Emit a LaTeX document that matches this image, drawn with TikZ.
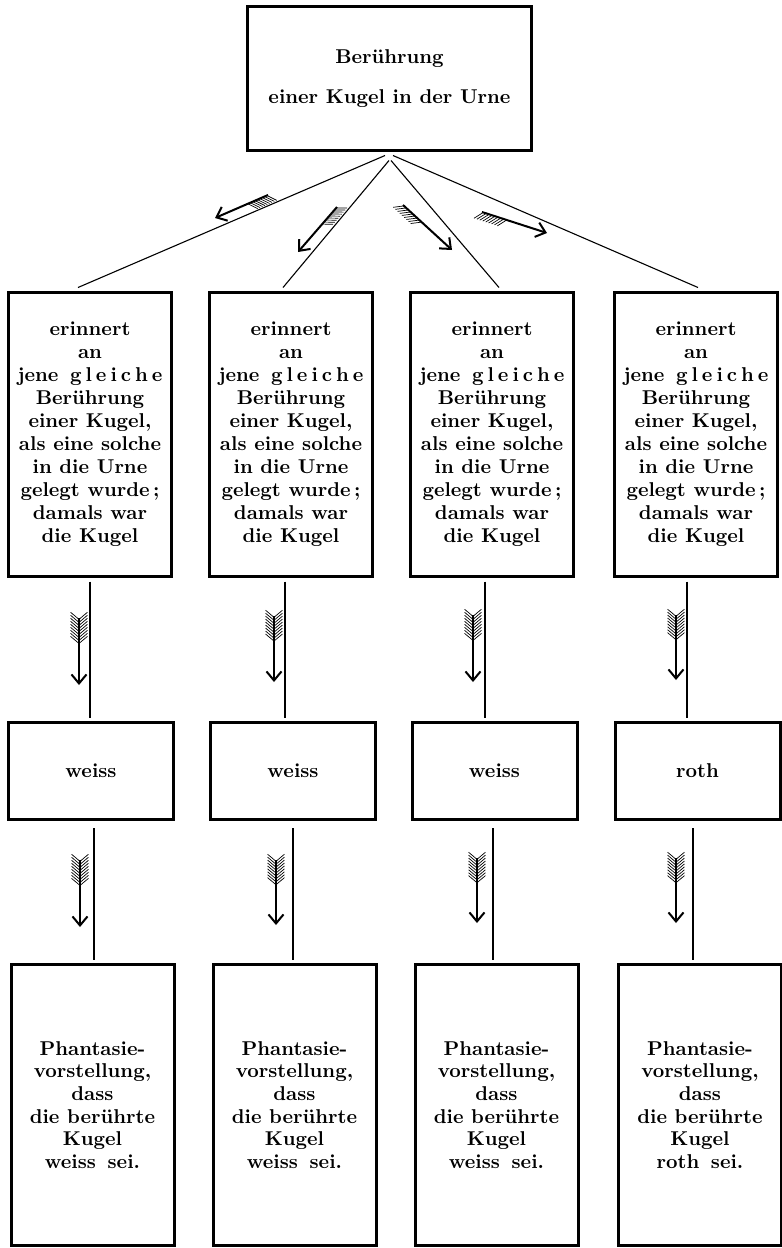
\documentclass[tikz,border=0pt]{standalone}
\usepackage{fontspec}
\usepackage{tikz}
\usetikzlibrary{positioning, calc, arrows.meta}
\tikzset {
    x=0.5pt, y=-0.5pt,
    kasten/.style={draw, line width=1.5pt, align=center, inner sep=0pt},
    oben/.style={kasten, minimum width=142pt, minimum height=72pt,
        font=\bfseries\fontsize{10}{12}\selectfont},
    erinnerung/.style={kasten, minimum width=81.5pt, minimum height=142pt,
        font=\bfseries\fontsize{10}{11.5}\selectfont},
    farbe/.style={kasten, minimum width=82.5pt, minimum height=48.5pt,
        font=\bfseries\fontsize{10}{12}\selectfont},
    vorstellung/.style={kasten, minimum width=81.5pt, minimum height=140.5pt,
        font=\bfseries\fontsize{10}{11.3}\selectfont},
    verbindung/.style={line width=0.55pt},
    schaft/.style={line width=1pt, -{Straight Barb[length=4.5pt, width=7.5pt]}},
    feder/.style={line width=0.35pt}
}
% feathered arrow: tail, head, barb angles
\newcommand{\pfeil}[3]{%
    \draw[schaft] #1 -- #2;
    \foreach \t in {0.02,0.065,...,0.38} {
        \coordinate (f) at ($#1!\t!#2$);
        \foreach \w in {#3}
            \draw[feder] (f) -- ($(f)!5.5pt!\w:#1$);
    }
}
\newcommand{\gleiche}{g\kern2pt l\kern2pt e\kern2pt i\kern2pt c\kern2pt h\kern2pt e}

\begin{document}
\begin{tikzpicture}
    \useasboundingbox (0,0) rectangle (782,1248);

    \node[oben] (beruehrung) at (389.5,78.5) {Berührung\\[8pt]einer Kugel in der Urne};

    \node[erinnerung] (e1) at (90,434) {erinnert\\an\\jene\hspace{2pt} \gleiche\\Berührung\\einer Kugel,\\als eine solche\\in die Urne\\gelegt wurde\,;\\damals war\\die Kugel};
    \node[erinnerung] (e2) at (291,434) {erinnert\\an\\jene\hspace{2pt} \gleiche\\Berührung\\einer Kugel,\\als eine solche\\in die Urne\\gelegt wurde\,;\\damals war\\die Kugel};
    \node[erinnerung] (e3) at (492,434) {erinnert\\an\\jene\hspace{2pt} \gleiche\\Berührung\\einer Kugel,\\als eine solche\\in die Urne\\gelegt wurde\,;\\damals war\\die Kugel};
    \node[erinnerung] (e4) at (696,434) {erinnert\\an\\jene\hspace{2pt} \gleiche\\Berührung\\einer Kugel,\\als eine solche\\in die Urne\\gelegt wurde\,;\\damals war\\die Kugel};

    \node[farbe] (w1) at (91,771) {weiss};
    \node[farbe] (w2) at (293,771) {weiss};
    \node[farbe] (w3) at (494.5,771) {weiss};
    \node[farbe] (r4) at (697.5,771) {roth};

    \node[vorstellung] (p1) at (92.5,1105) {Phantasie-\\vorstellung,\\dass\\die berührte\\Kugel\\weiss\hspace{2pt} sei.};
    \node[vorstellung] (p2) at (294.5,1105) {Phantasie-\\vorstellung,\\dass\\die berührte\\Kugel\\weiss\hspace{2pt} sei.};
    \node[vorstellung] (p3) at (496.5,1105) {Phantasie-\\vorstellung,\\dass\\die berührte\\Kugel\\weiss\hspace{2pt} sei.};
    \node[vorstellung] (p4) at (700,1105) {Phantasie-\\vorstellung,\\dass\\die berührte\\Kugel\\roth\hspace{2pt} sei.};

    % fan from the top box
    \draw[verbindung] ($(beruehrung.south)+(-4.5,3.5)$) -- ($(e1.north)+(-12,-3)$);
    \draw[verbindung] ($(beruehrung.south)+(-0.5,8.5)$) -- ($(e2.north)+(-8,-3)$);
    \draw[verbindung] ($(beruehrung.south)+(1.5,8.5)$) -- ($(e3.north)+(7,-3)$);
    \draw[verbindung] ($(beruehrung.south)+(3.5,3.5)$) -- ($(e4.north)+(2,-3)$);

    % second row
    \draw[verbindung] ($(e1.south)+(0,4)$) -- ($(w1.north)+(-1,-3)$);
    \draw[verbindung] ($(e2.south)+(-6,4)$) -- ($(w2.north)+(-8,-3)$);
    \draw[verbindung] ($(e3.south)+(-7,4)$) -- ($(w3.north)+(-9.5,-3)$);
    \draw[verbindung] ($(e4.south)+(-9,4)$) -- ($(r4.north)+(-10.5,-3)$);

    % third row
    \draw[verbindung] ($(w1.south)+(3,7)$) -- ($(p1.north)+(1.5,-3)$);
    \draw[verbindung] ($(w2.south)+(0,7)$) -- ($(p2.north)+(-1.5,-3)$);
    \draw[verbindung] ($(w3.south)+(-1.5,7)$) -- ($(p3.north)+(-3.5,-3)$);
    \draw[verbindung] ($(r4.south)+(-4.5,7)$) -- ($(p4.north)+(-7,-3)$);

    % arrows beside the lines
    \pfeil{(268,195)}{(215,218)}{-50}
    \pfeil{(337,207)}{(298,252)}{-50}
    \pfeil{(403,205)}{(452,250)}{50}
    \pfeil{(482,212)}{(547,233)}{50}

    \pfeil{(79,618)}{(79,685)}{50,-50}
    \pfeil{(274,616)}{(274,682)}{50,-50}
    \pfeil{(473,615)}{(473,682)}{50,-50}
    \pfeil{(676,615)}{(676,680)}{50,-50}

    \pfeil{(80,860)}{(80,927)}{50,-50}
    \pfeil{(276,860)}{(276,925)}{50,-50}
    \pfeil{(477,858)}{(477,923)}{50,-50}
    \pfeil{(676,858)}{(676,923)}{50,-50}
\end{tikzpicture}
\end{document}
